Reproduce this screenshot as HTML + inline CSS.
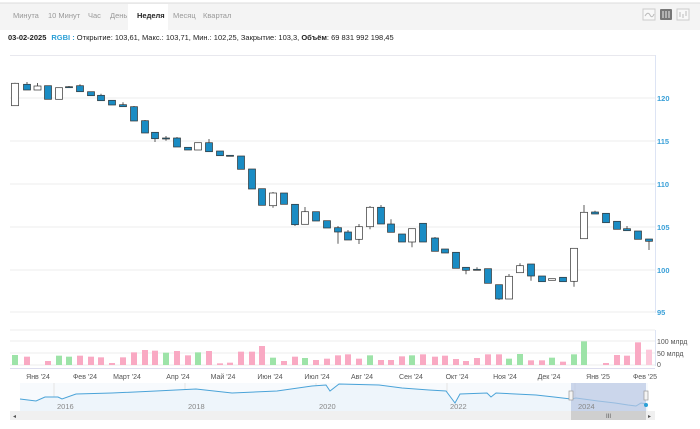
<!DOCTYPE html>
<html><head><meta charset="utf-8">
<style>
body{margin:0;width:700px;height:429px;background:#fff;font-family:"Liberation Sans",sans-serif;overflow:hidden}
svg{position:absolute;left:0;top:0}
</style></head><body>
<svg id="s" width="700" height="429" xmlns="http://www.w3.org/2000/svg" font-family="Liberation Sans, sans-serif">
<rect x="0" y="3" width="700" height="27" fill="#f4f4f4"/>
<line x1="0" y1="3" x2="700" y2="3" stroke="#ddd"/>
<rect x="128" y="4" width="40" height="26" fill="#fff"/>
<g font-size="7.5" fill="#999">
<text x="13" y="18">Минута</text><text x="48" y="18">10 Минут</text><text x="88" y="18">Час</text><text x="110" y="18">День</text>
<text x="137" y="18" fill="#222" font-weight="bold">Неделя</text><text x="173" y="18">Месяц</text><text x="203" y="18">Квартал</text>
</g>
<rect x="643" y="9" width="12" height="11" fill="#f8f8f8" stroke="#ccc"/><path d="M645 16 Q648 11 650 15 T654 14" stroke="#bbb" fill="none"/>
<rect x="660" y="9" width="12" height="11" fill="#777" rx="1"/><path d="M663 11v7M666 11v7M669 11v7" stroke="#eee"/>
<rect x="677" y="9" width="12" height="11" fill="#f8f8f8" stroke="#ccc"/><path d="M680 12v5M683 14v4M686 11v5" stroke="#bbb"/>
<text x="8" y="40" font-size="7.5" fill="#222"><tspan font-weight="bold">03-02-2025</tspan><tspan fill="#2a9fd6" font-weight="bold" dx="5">RGBI : </tspan><tspan>Открытие: 103,61, Макс.: 103,71, Мин.: 102,25, Закрытие: 103,3, </tspan><tspan font-weight="bold">Объём</tspan><tspan>: 69 831 992 198,45</tspan></text>
<line x1="10" y1="55.5" x2="655" y2="55.5" stroke="#e8e8ee"/>
<g stroke="#eee"><line x1="10" y1="98" x2="655" y2="98"/><line x1="10" y1="141" x2="655" y2="141"/><line x1="10" y1="184" x2="655" y2="184"/><line x1="10" y1="227" x2="655" y2="227"/><line x1="10" y1="270" x2="655" y2="270"/><line x1="10" y1="312" x2="655" y2="312"/><line x1="10" y1="330" x2="655" y2="330"/><line x1="10" y1="341" x2="655" y2="341"/><line x1="10" y1="353" x2="655" y2="353"/><line x1="10" y1="365" x2="655" y2="365"/></g>
<line x1="655.5" y1="55" x2="655.5" y2="313" stroke="#dde4f4"/>
<line x1="655.5" y1="330" x2="655.5" y2="366" stroke="#dde4f4"/>
<g font-size="7.5" fill="#3aa0d8" font-weight="bold"><text x="657" y="101">120</text><text x="657" y="144">115</text><text x="657" y="187">110</text><text x="657" y="230">105</text><text x="657" y="273">100</text><text x="657" y="315">95</text></g>
<g font-size="7" fill="#555"><text x="657" y="344">100 млрд</text><text x="657" y="356">50 млрд</text><text x="657" y="367">0</text></g>
<line x1="10" y1="368.5" x2="655" y2="368.5" stroke="#dde"/>
<g font-size="7" fill="#555" text-anchor="middle"><text x="38" y="379">Янв '24</text><text x="85" y="379">Фев '24</text><text x="127" y="379">Март '24</text><text x="178" y="379">Апр '24</text><text x="223" y="379">Май '24</text><text x="270" y="379">Июн '24</text><text x="317" y="379">Июл '24</text><text x="362" y="379">Авг '24</text><text x="411" y="379">Сен '24</text><text x="457" y="379">Окт '24</text><text x="505" y="379">Ноя '24</text><text x="549" y="379">Дек '24</text><text x="598" y="379">Янв '25</text><text x="645" y="379">Фев '25</text></g>
<g id="c"></g><g id="v"></g>
<rect x="20" y="383" width="628" height="28" fill="#f7fafd"/>
<g stroke="#e4e4e4"><line x1="54" y1="383" x2="54" y2="411"/><line x1="185" y1="383" x2="185" y2="411"/><line x1="316" y1="383" x2="316" y2="411"/><line x1="447" y1="383" x2="447" y2="411"/><line x1="575" y1="383" x2="575" y2="411"/></g>
<path d="M20 399 L36 401 L45 397 L58 397 L62 399 L76 394 L112 393 L156 391 L196 389 L232 393 L277 391 L312 386 L326 385 L330 391 L339 384 L379 385 L402 388 L429 390 L446 391 L455 403 L460 394 L487 393 L491 397 L496 393 L536 395 L554 397 L571 399 L576 398 L598 401 L615 403 L628 405 L636 406 L641 403 L647 404 L647 411 L20 411Z" fill="#eef5fb"/>
<polyline points="20,399 36,401 45,397 58,397 62,399 76,394 112,393 156,391 196,389 232,393 277,391 312,386 326,385 330,391 339,384 379,385 402,388 429,390 446,391 455,403 460,394 487,393 491,397 496,393 536,395 554,397 571,399 576,398 598,401 615,403 628,405 636,406 641,403 647,404" fill="none" stroke="#4aa3d8" stroke-width="1"/>
<rect x="571" y="383" width="75" height="28" fill="#b8c6e2" opacity="0.7"/>
<g font-size="7.5" fill="#888"><text x="57" y="409">2016</text><text x="188" y="409">2018</text><text x="319" y="409">2020</text><text x="450" y="409">2022</text><text x="578" y="409">2024</text></g>
<rect x="569" y="391" width="4" height="9" fill="#f4f4f4" stroke="#999" stroke-width="0.7"/>
<rect x="644" y="391" width="4" height="9" fill="#f4f4f4" stroke="#999" stroke-width="0.7"/>
<circle cx="646" cy="405" r="2" fill="#2a9fd6"/>
<rect x="10" y="411" width="645" height="9" fill="#f0f0f0"/>
<rect x="571" y="411" width="75" height="9" fill="#cfcfcf"/>
<text x="606" y="418" font-size="6" fill="#555">III</text>
<text x="13" y="418" font-size="6" fill="#555">◂</text><text x="648" y="418" font-size="6" fill="#555">▸</text>
</svg>
<script>
var C=[[15,83.3,105.7,82.7,105.7,0],[27,84.3,90,82,90,1],[37.5,86,90,83,90,0],[48,85.7,99.3,85.7,99.3,1],[59,87.7,99.3,87.7,99.3,0],[69,86.7,87.7,86,88,1],[80,85.7,91.7,84.3,91.7,1],[91,91.7,95.7,91.7,95.7,1],[101,95.3,100.7,93.7,100.7,1],[112,100.3,105,100.3,105,1],[123,104.7,106.7,102.3,106.7,1],[134,106.7,121,106,121,1],[145,120.7,133,120,133,1],[155,132.3,138.7,132.3,142,1],[166,138,139,136,140.7,1],[177,138,147,137,147,1],[188,147.3,150,147,150,1],[198,142.7,150,142.7,150,0],[209,142.7,151.7,139,151.7,1],[220,151,155.7,151,155.7,1],[230,155.3,156.3,155,156.5,1],[241,156,169.3,156,169.3,1],[252,169,189,169,189,1],[262,188.7,205.3,188.7,205.3,1],[273,193,205.7,192,207.7,0],[284,193,204.3,193,204.3,1],[295,204.3,224.7,204.3,226,1],[305,211.7,224.3,207,224.3,0],[316,211.7,221,211.7,221,1],[327,220.7,228,220.7,228,1],[338,227.7,232,226,243.7,1],[348,232,240,230,240,1],[359,226.7,239.3,224,244,0],[370,207.3,226.7,206,229.3,0],[381,207.3,224,205,224,1],[391,224,232.3,219.3,232.3,1],[402,234,242,234,242,1],[412,228.7,242,228.7,247.3,0],[423,223.3,242,223.3,242,1],[435,238,251.3,237,251.3,1],[445,249,253,249,253,1],[456,252.3,268.3,252.3,268.3,1],[466,267.3,270.3,267.3,274.3,1],[477,269.3,270.3,267.3,270.3,1],[488,268.7,283.3,268.7,283.3,1],[499,284.7,299,284.7,300,1],[509,276.3,299,274,299,0],[520,265.7,272.7,263.3,272.7,0],[531,264,276,264,280.7,1],[542,276,281.7,276,282,1],[552,278.7,280.3,278.7,280.3,0],[563,277.3,281.7,277.3,281.7,1],[574,248.3,281.3,248.3,286.7,0],[584,212.3,238.7,205,238.7,0],[595,212,214,210.7,214,1],[606,213.3,222.7,213.3,222.7,1],[617,221.3,229.3,221.3,229.3,1],[627,228.7,230.7,226,230.7,1],[638,231,239.3,231,239.3,1],[649,239,241.3,239,250,1]];
var V=[[103,'g'],[108,'p'],[0,'p'],[121,'p'],[105,'g'],[108,'g'],[105,'p'],[108,'p'],[110,'p'],[127,'p'],[110,'p'],[95,'p'],[88,'p'],[90,'p'],[96,'g'],[91,'p'],[104,'p'],[95,'g'],[91,'p'],[128,'p'],[126,'p'],[93,'p'],[93,'p'],[76,'p'],[111,'g'],[121,'p'],[108,'p'],[112,'g'],[118,'p'],[114,'p'],[104,'p'],[101,'p'],[114,'p'],[104,'g'],[118,'p'],[118,'p'],[107,'p'],[104,'g'],[101,'p'],[108,'p'],[105,'p'],[115,'p'],[121,'p'],[112,'p'],[101,'p'],[101,'p'],[114,'g'],[100,'g'],[119,'p'],[119,'p'],[111,'g'],[123,'p'],[101,'g'],[62,'g'],[0,'p'],[127,'p'],[103,'p'],[105,'p'],[65,'p'],[87,'l']];
var s='';C.forEach(function(c){var x=c[0];s+='<line x1="'+x+'" y1="'+c[3]+'" x2="'+x+'" y2="'+c[4]+'" stroke="#333" stroke-width="0.8"/>';var h=Math.max(c[2]-c[1],0.8);s+='<rect x="'+(x-3.5)+'" y="'+c[1]+'" width="7" height="'+h+'" fill="'+(c[5]?'#1a8cc4':'#fff')+'" stroke="#333" stroke-width="0.7"/>';});
document.getElementById('c').innerHTML=s;
var t='';var col={g:'#9de3a8',p:'#f9a9c3',l:'#fcc8da'};V.forEach(function(v,i){if(!v[0])return;var h=(133-v[0])/3;if(h<0.5)return;var x=C[i][0];t+='<rect x="'+(x-3)+'" y="'+(365-h)+'" width="6" height="'+h+'" fill="'+col[v[1]]+'"/>';});
document.getElementById('v').innerHTML=t;
</script>
</body></html>
